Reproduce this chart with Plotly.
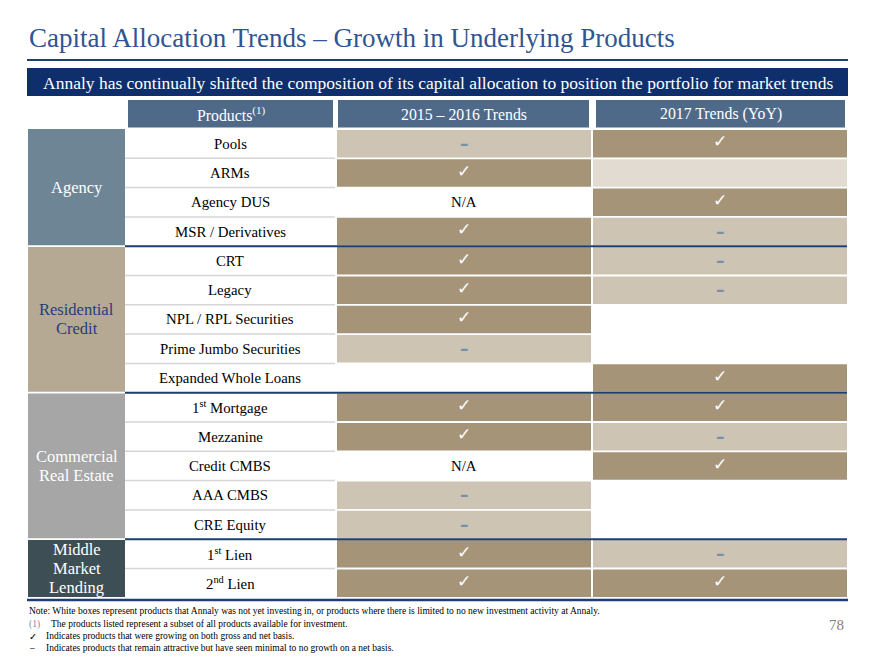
import plotly.graph_objects as go

# ---------------- data ----------------
groups = ["Agency", "Residential<br>Credit", "Commercial<br>Real Estate", "Middle<br>Market<br>Lending"]
group_sizes = [4, 5, 5, 2]
products = ["Pools", "ARMs", "Agency DUS", "MSR / Derivatives",
            "CRT", "Legacy", "NPL / RPL Securities", "Prime Jumbo Securities", "Expanded Whole Loans",
            "1<sup>st</sup> Mortgage", "Mezzanine", "Credit CMBS", "AAA CMBS", "CRE Equity",
            "1<sup>st</sup> Lien", "2<sup>nd</sup> Lien"]
trend_2015_2016 = ["dash", "check", "na", "check",
                   "check", "check", "check", "dash", "none",
                   "check", "check", "na", "dash", "dash",
                   "check", "check"]
trend_2017 = ["check", "faded", "check", "dash",
              "dash", "dash", "none", "none", "check",
              "check", "dash", "check", "none", "none",
              "dash", "check"]
headers = ["Products<sup>(1)</sup>", "2015 – 2016 Trends", "2017 Trends (YoY)"]
title_text = "Capital Allocation Trends – Growth in Underlying Products"
banner_text = "Annaly has continually shifted the composition of its capital allocation to position the portfolio for market trends"
notes = [
    ("", "Note: White boxes represent products that Annaly was not yet investing in, or products where there is limited to no new investment activity at Annaly."),
    ("(1)", "The products listed represent a subset of all products available for investment."),
    ("✓", "Indicates products that were growing on both gross and net basis."),
    ("–", "Indicates products that remain attractive but have seen minimal to no growth on a net basis."),
]
page_number = "78"

# ---------------- styles / layout ----------------
W, H = 880, 660
OFF = 8  # page body margin of the browser
TOP_PX, ROW_PX = 129.0, 29.3
SERIF = "Liberation Serif"
NAVY = "#0e2f6b"
LINE_NAVY = "#1f3f72"
TITLE_C = "#2f5592"
HEAD_C = "#4f6a89"
DARK = "#a69479"
LIGHT = "#cdc4b4"
FADED = "#e2dbd1"
DASH_C = "#7890a6"
group_fill = ["#6e8596", "#b6a993", "#a6a6a6", "#3d4f55"]
group_text = ["white", "#1d3f7c", "white", "white"]

GX0, GX1 = 28, 125
PX0, PX1 = 125, 335
C2X0, C2X1 = 337, 591
C3X0, C3X1 = 593, 847
LINE_GAP_PX = 19


def r(py):
    """pixel y -> row units on the y axis"""
    return (py - TOP_PX) / ROW_PX


shapes = []
ann = []

# title rule + banner
shapes.append(dict(type="line", x0=27, x1=848, y0=r(60), y1=r(60), line=dict(color=LINE_NAVY, width=2)))
shapes.append(dict(type="rect", x0=27, x1=848, y0=r(68), y1=r(96), fillcolor=NAVY, line=dict(width=0)))
ann.append(dict(x=27, y=r(38), text=title_text, xanchor="left", yanchor="middle", showarrow=False,
                font=dict(family=SERIF, size=27, color=TITLE_C)))
ann.append(dict(x=437.5, y=r(82.5), text=banner_text, xanchor="center", yanchor="middle", showarrow=False,
                font=dict(family=SERIF, size=17.5, color="white")))

# headers
for (hx0, hx1), txt in zip([(128, 333), (338, 589), (596, 845)], headers):
    shapes.append(dict(type="rect", x0=hx0, x1=hx1, y0=r(100), y1=r(127.5), fillcolor=HEAD_C, line=dict(width=0)))
    ann.append(dict(x=(hx0 + hx1) / 2, y=r(114), text=txt, showarrow=False, xanchor="center", yanchor="middle",
                    font=dict(family=SERIF, size=15.8, color="white")))

# product column separators
n = len(products)
for i in range(1, n):
    shapes.append(dict(type="line", x0=PX0, x1=PX1, y0=i, y1=i, line=dict(color="#d6d6d6", width=1.5)))

# product labels
for i, p in enumerate(products):
    ann.append(dict(x=(PX0 + PX1) / 2, y=i + 0.5, text=p, showarrow=False, xanchor="center", yanchor="middle",
                    font=dict(family=SERIF, size=14.8, color="black")))

# trend cells
gap = 0.9 / ROW_PX
for (cx0, cx1), col in [((C2X0, C2X1), trend_2015_2016), ((C3X0, C3X1), trend_2017)]:
    cx = (cx0 + cx1) / 2
    for i, v in enumerate(col):
        fill = {"check": DARK, "dash": LIGHT, "faded": FADED}.get(v)
        if fill:
            shapes.append(dict(type="rect", x0=cx0, x1=cx1, y0=i + gap, y1=i + 1 - gap,
                               fillcolor=fill, line=dict(width=0), layer="below"))
        if v == "check":
            ann.append(dict(x=cx, y=i + 0.42, text="✓", showarrow=False, xanchor="center", yanchor="middle",
                            font=dict(family="DejaVu Sans", size=17, color="white")))
        elif v == "dash":
            ann.append(dict(x=cx, y=i + 0.5, text="<b>–</b>", showarrow=False, xanchor="center", yanchor="middle",
                            font=dict(family="DejaVu Sans", size=17, color=DASH_C)))
        elif v == "na":
            ann.append(dict(x=cx, y=i + 0.5, text="N/A", showarrow=False, xanchor="center", yanchor="middle",
                            font=dict(family=SERIF, size=14.8, color="black")))

# group column + group boundary lines
start = 0
for gi, (g, sz) in enumerate(zip(groups, group_sizes)):
    end = start + sz
    shapes.append(dict(type="rect", x0=GX0, x1=GX1, y0=start + (gap if gi else 0), y1=end - gap,
                       fillcolor=group_fill[gi], line=dict(width=0)))
    lines = g.split("<br>")
    mid = (start + end) / 2
    for li, ln in enumerate(lines):
        dy = (li - (len(lines) - 1) / 2) * LINE_GAP_PX / ROW_PX
        ann.append(dict(x=(GX0 + GX1) / 2, y=mid + dy, text=ln, showarrow=False,
                        xanchor="center", yanchor="middle",
                        font=dict(family=SERIF, size=16.5, color=group_text[gi])))
    if end < n:
        shapes.append(dict(type="line", x0=PX0, x1=C3X1, y0=end, y1=end, line=dict(color=LINE_NAVY, width=2)))
    start = end

# bottom rule
shapes.append(dict(type="line", x0=27, x1=848, y0=r(600), y1=r(600), line=dict(color=LINE_NAVY, width=2.5)))

# notes
note_y = [611, 624, 636, 648]
for (mark, txt), py in zip(notes, note_y):
    if mark == "":
        ann.append(dict(x=27, y=r(py), text=txt, showarrow=False, xanchor="left", yanchor="middle",
                        font=dict(family=SERIF, size=9.5, color="black")))
    else:
        mc = "#7890a6" if mark == "(1)" else "black"
        ann.append(dict(x=27, y=r(py), text=mark, showarrow=False, xanchor="left", yanchor="middle",
                        font=dict(family=SERIF if mark != "✓" else "DejaVu Sans", size=9.5, color=mc)))
        ann.append(dict(x=49 if mark == "(1)" else 44, y=r(py), text=txt, showarrow=False, xanchor="left",
                        yanchor="middle", font=dict(family=SERIF, size=9.5, color="black")))
ann.append(dict(x=846, y=r(625), text=page_number, showarrow=False, xanchor="right", yanchor="middle",
                font=dict(family=SERIF, size=15, color="#7f7f7f")))

fig = go.Figure()
fig.add_trace(go.Scatter(x=[0], y=[0], mode="markers", marker=dict(opacity=0), hoverinfo="skip", showlegend=False))
fig.update_layout(
    width=W - OFF, height=H - OFF, margin=dict(l=0, r=0, t=0, b=0),
    paper_bgcolor="white", plot_bgcolor="white",
    xaxis=dict(range=[OFF, W], visible=False, fixedrange=True),
    yaxis=dict(range=[r(H), r(OFF)], visible=False, fixedrange=True),
    shapes=shapes, annotations=ann, showlegend=False,
)
fig.write_html("out.html")
